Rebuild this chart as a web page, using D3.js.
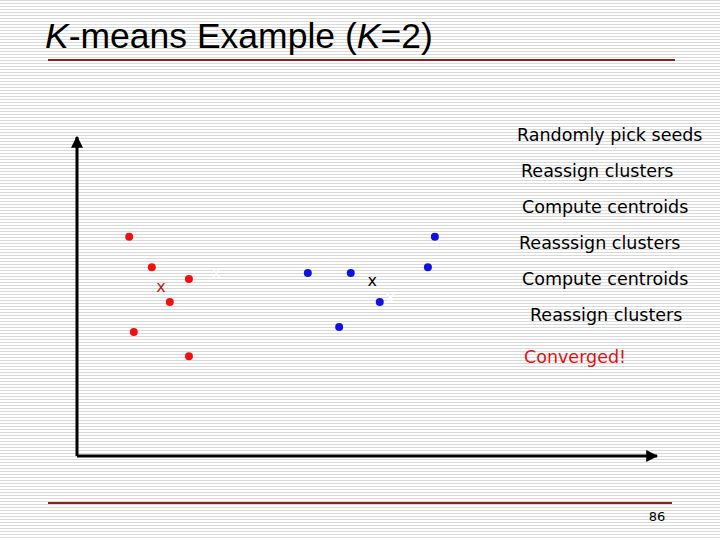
<!DOCTYPE html>
<html><head><meta charset="utf-8">
<script src="https://cdn.jsdelivr.net/npm/d3@7"></script>
<style>body{margin:0}svg{display:block}</style>
</head><body><div id="chart"></div>
<script>
const redPoints = [[9.0, 68.7], [12.9, 59.2], [19.3, 55.5], [16.0, 48.3], [9.8, 38.9], [19.3, 31.3]];
const bluePoints = [[39.8, 57.4], [47.2, 57.4], [52.2, 48.3], [45.2, 40.4], [61.7, 68.7], [60.5, 59.2]];
const centroids = [{p: [14.5, 53.0], color: '#b22222'}, {p: [50.9, 54.9], color: '#000'},
  {p: [24.0, 57.4], color: '#fff'}, {p: [54.0, 49.5], color: '#fff'}];
const steps = [
  {t: 'Randomly pick seeds', x: 517, y: 141},
  {t: 'Reassign clusters', x: 521, y: 177},
  {t: 'Compute centroids', x: 522, y: 213},
  {t: 'Reasssign clusters', x: 519, y: 249},
  {t: 'Compute centroids', x: 522, y: 285},
  {t: 'Reassign clusters', x: 530, y: 321},
  {t: 'Converged!', x: 524, y: 363, red: true}
];

const svg = d3.select('#chart').append('svg').attr('width', 720).attr('height', 540);
const defs = svg.append('defs');
const pat = defs.append('pattern').attr('id', 'stripes')
  .attr('patternUnits', 'userSpaceOnUse').attr('width', 6).attr('height', 3);
pat.append('rect').attr('width', 6).attr('height', 3).attr('fill', '#fff');
pat.append('rect').attr('width', 6).attr('height', 1).attr('fill', '#d9d9d9');
defs.append('marker').attr('id', 'arrow').attr('viewBox', '0 0 10 10')
  .attr('refX', 9).attr('refY', 5).attr('markerWidth', 4).attr('markerHeight', 4)
  .attr('orient', 'auto').append('path').attr('d', 'M0,0L10,5L0,10z').attr('fill', '#000');

svg.append('rect').attr('width', 720).attr('height', 540).attr('fill', 'url(#stripes)');

// title
const title = svg.append('text').attr('x', 45).attr('y', 48)
  .style('font-family', 'Liberation Sans, Arial').style('font-size', '35.5px');
title.append('tspan').style('font-style', 'italic').text('K');
title.append('tspan').text('-means Example (');
title.append('tspan').style('font-style', 'italic').text('K');
title.append('tspan').text('=2)');
svg.append('line').attr('x1', 48).attr('x2', 675).attr('y1', 60).attr('y2', 60)
  .attr('stroke', '#8b2020').attr('stroke-width', 2);
svg.append('line').attr('x1', 48).attr('x2', 672).attr('y1', 503).attr('y2', 503)
  .attr('stroke', '#8b2020').attr('stroke-width', 2);
svg.append('text').attr('x', 657).attr('y', 521).attr('text-anchor', 'middle')
  .style('font-family', 'DejaVu Sans').style('font-size', '13px').text('86');

const x = d3.scaleLinear().domain([0, 100]).range([77, 657]);
const y = d3.scaleLinear().domain([0, 100]).range([456, 137]);

svg.append('line').attr('x1', x(0)).attr('x2', x(0)).attr('y1', y(0)).attr('y2', y(100))
  .attr('stroke', '#000').attr('stroke-width', 3).attr('marker-end', 'url(#arrow)');
svg.append('line').attr('x1', x(0)).attr('x2', x(100)).attr('y1', y(0)).attr('y2', y(0))
  .attr('stroke', '#000').attr('stroke-width', 3).attr('marker-end', 'url(#arrow)');

svg.selectAll('.red').data(redPoints).enter().append('circle')
  .attr('cx', d => x(d[0])).attr('cy', d => y(d[1])).attr('r', 4).attr('fill', '#ee1111');
svg.selectAll('.blue').data(bluePoints).enter().append('circle')
  .attr('cx', d => x(d[0])).attr('cy', d => y(d[1])).attr('r', 4).attr('fill', '#1111dd');
svg.selectAll('.cent').data(centroids).enter().append('text')
  .attr('x', d => x(d.p[0])).attr('y', d => y(d.p[1]) + 5).attr('text-anchor', 'middle')
  .attr('fill', d => d.color).style('font-family', 'DejaVu Sans').style('font-size', '16px').text('x');

svg.selectAll('.step').data(steps).enter().append('text')
  .attr('x', d => d.x).attr('y', d => d.y).attr('fill', d => d.red ? '#dd1111' : '#000')
  .style('font-family', 'DejaVu Sans').style('font-size', '17.5px').text(d => d.t);
</script></body></html>
